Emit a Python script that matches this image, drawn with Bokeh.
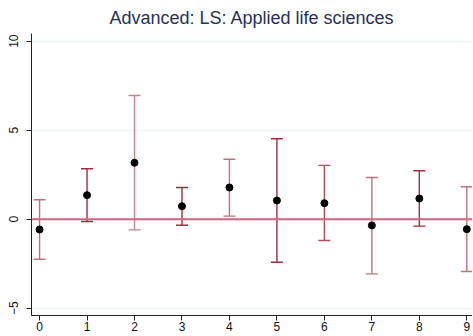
from bokeh.plotting import figure
from bokeh.models import ColumnDataSource, Range1d, FixedTicker, Span
from bokeh.embed import file_html
from bokeh.resources import INLINE

# Data
periods = [0, 1, 2, 3, 4, 5, 6, 7, 8, 9]
estimate = [-0.58, 1.35, 3.17, 0.73, 1.78, 1.05, 0.90, -0.35, 1.16, -0.56]
ci_upper = [1.09, 2.83, 6.95, 1.78, 3.37, 4.52, 3.02, 2.34, 2.72, 1.82]
ci_lower = [-2.25, -0.13, -0.60, -0.34, 0.17, -2.42, -1.20, -3.07, -0.39, -2.94]
bar_colors = ["#bd737c", "#a42a3e", "#c4858d", "#a42a3e", "#bd737c",
              "#a42a3e", "#b24c5c", "#bd737c", "#a42a3e", "#bd737c"]
y_ticks = [-5, 0, 5, 10]
x_ticks = periods

src = ColumnDataSource(dict(x=periods, y=estimate, hi=ci_upper, lo=ci_lower, c=bar_colors))

p = figure(frame_width=441, frame_height=282, output_backend="svg", toolbar_location=None,
           x_range=Range1d(-0.17, 9.12), y_range=Range1d(-5.41, 10.43),
           min_border_left=31, min_border_right=0, min_border_top=0, min_border_bottom=0,
           title="Advanced: LS: Applied life sciences")

p.title.align = "center"
p.title.text_font = "Liberation Sans"
p.title.text_font_size = "18px"
p.title.text_font_style = "normal"
p.title.text_color = "#24315a"
p.title.offset = 0
p.title.standoff = 11

p.outline_line_color = None
p.background_fill_color = "white"
p.border_fill_color = "white"

p.xgrid.grid_line_color = None
p.ygrid.grid_line_color = "#eef3f4"
p.ygrid.grid_line_width = 1.5
p.ygrid.ticker = FixedTicker(ticks=y_ticks)

for ax in (p.xaxis, p.yaxis):
    ax.axis_line_color = "#222222"
    ax.axis_line_width = 1
    ax.major_tick_line_color = "#222222"
    ax.major_tick_out = 5
    ax.major_tick_in = 0
    ax.minor_tick_line_color = None
    ax.major_label_text_font = "Liberation Sans"
    ax.major_label_text_font_size = "12px"
    ax.major_label_text_color = "#111111"

p.xaxis.ticker = FixedTicker(ticks=x_ticks)
p.yaxis.ticker = FixedTicker(ticks=y_ticks)
p.yaxis.major_label_orientation = "vertical"
p.yaxis.major_label_standoff = 8
p.xaxis.major_label_standoff = 1

p.add_layout(Span(location=0, dimension="width", line_color="#d3657f", line_width=2))

p.segment(x0="x", y0="lo", x1="x", y1="hi", line_color="c", line_width=1.4, source=src)
p.scatter(x="x", y="hi", marker="dash", size=12, line_color="c", line_width=1.4, source=src)
p.scatter(x="x", y="lo", marker="dash", size=12, line_color="c", line_width=1.4, source=src)
p.scatter(x="x", y="y", marker="circle", size=7, fill_color="black", line_color="black", source=src)

open("out.html", "w").write(file_html(p, INLINE))
